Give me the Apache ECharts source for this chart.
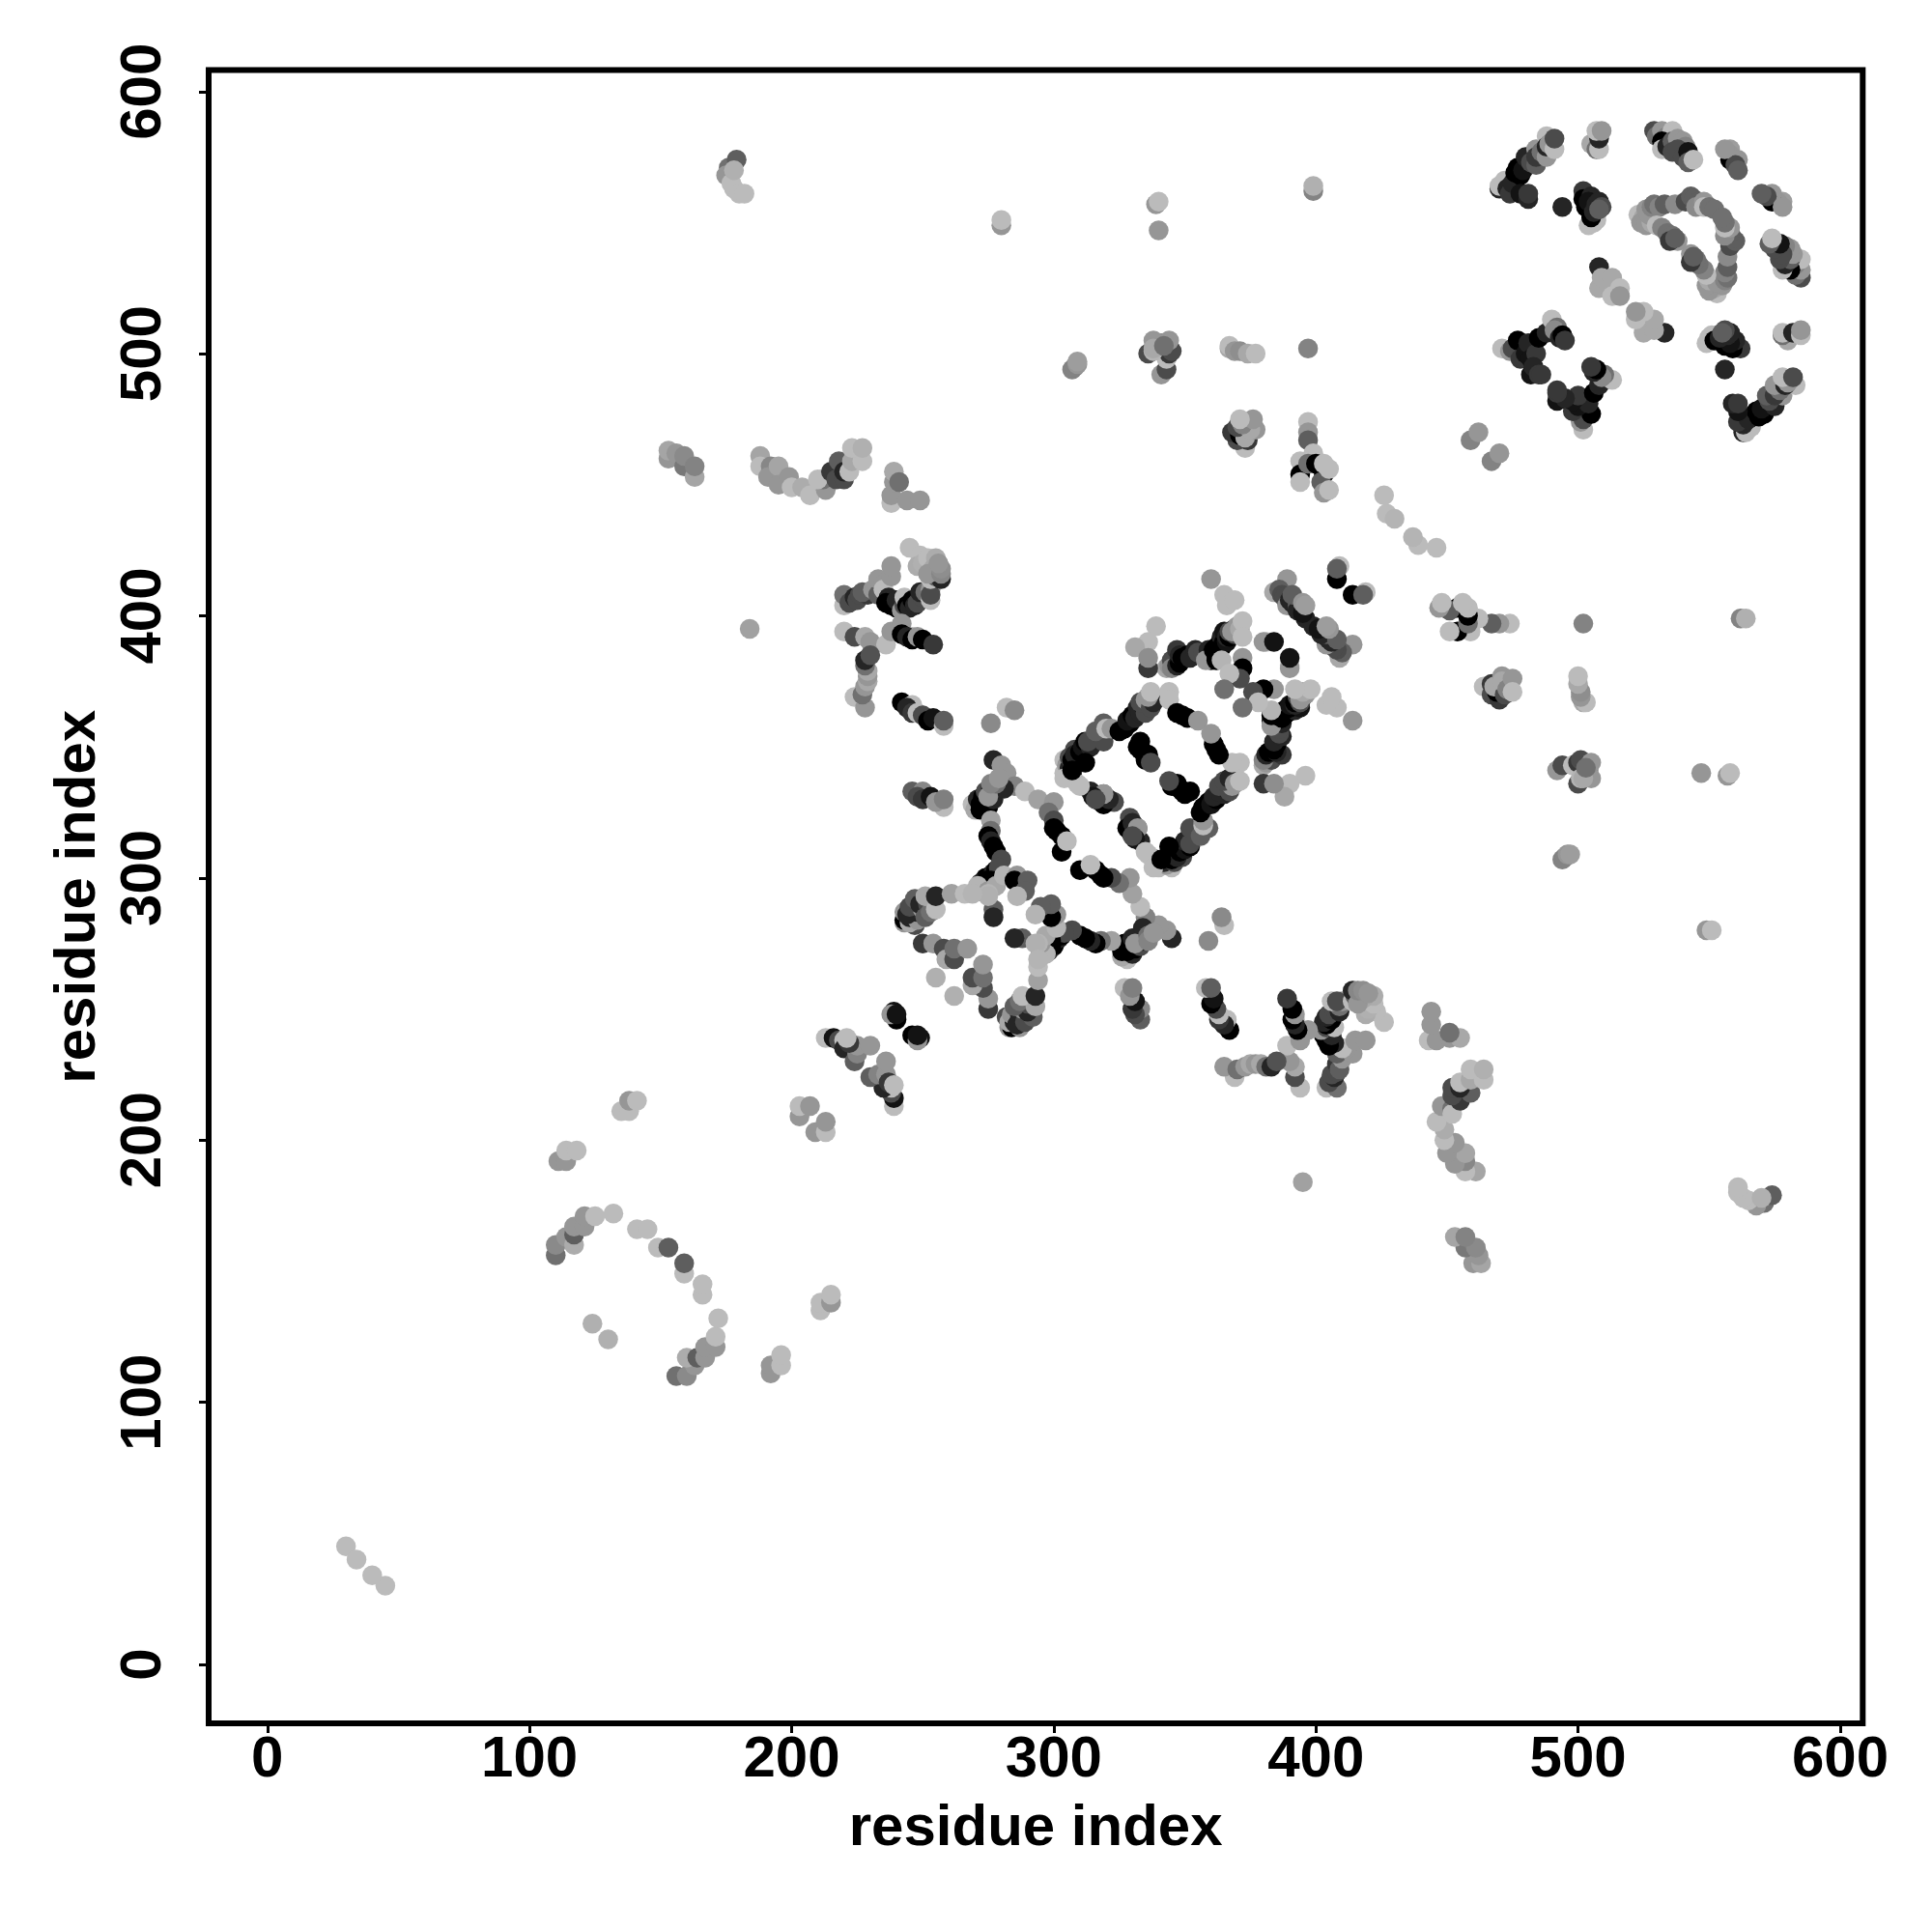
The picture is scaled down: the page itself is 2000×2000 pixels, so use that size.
<!DOCTYPE html>
<html><head><meta charset="utf-8">
<style>html,body{margin:0;padding:0;background:#fff}#chart{width:2000px;height:2000px}</style>
<script src="https://cdn.jsdelivr.net/npm/echarts@6/dist/echarts.min.js"></script>
</head><body><div id="chart"></div>
<script>
// Symmetric residue contact map: each entry is [residue i, residue j, contact score 0-5]
const tickValues = [0,100,200,300,400,500,600];
const axisTitle = 'residue index';
const contactsNTerm = [[30,45,0],[34,40,0],[110,156,2],[110,160,1.3],[114,163,1],[117,160,0.4],[117,164,2.5],[117,167,1],[121,167,1],[121,171,1],[125,171,0],[132,172,0],[141,166,0],[145,166,0],[149,159,0],[153,159,2.5],[124,130,0.3],[111,192,1],[114,192,1],[114,196,0],[118,196,0],[135,211,0],[138,211,0],[138,215,1],[141,215,0],[203,209,1],[203,213,0],[207,213,1],[153,460,1],[153,463,0.6],[156,462,1],[159,457,1.8],[159,461,1.3],[163,453,0.6],[163,457,1.5]];
const contacts180s = [[188,461,0.6],[188,457,0],[192,457,1.4],[191,453,1],[195,457,0.6],[195,450,1],[199,453,1],[200,449,0],[204,449,0.4],[207,446,0],[213,448,1],[212,452,2],[210,452,0],[215,455,3.5],[218,459,2.5],[217,452,3],[220,452,3],[220,455,4],[222,455,0],[223,459,0.5],[227,459,0],[223,464,0],[227,464,0.3],[238,443,0],[238,446,1],[239,451,1],[239,455,0.5],[241,451,2],[244,444,1],[249,444,1],[184,395,0.7],[176,571,2],[179,574,2.5],[175,568,1],[177,565,0],[178,563,0],[180,561,0],[182,561,0],[178,570,0.3],[280,549,1],[280,551,0]];
const contacts210s = [[213,239,0],[216,239,4.5],[218,238,3],[220,238,0],[220,235,4],[224,230,2.5],[225,233,1.5],[225,236,1],[230,236,1],[222,237,3.5],[221,239,0],[239,249,4.5],[240,246,5],[238,248,1],[240,248,4.5],[220,404,0],[220,408,2],[222,405,3],[224,407,4],[225,406,3],[226,408,3],[229,408,3.5],[227,409,2.5],[231,410,1],[233,408,2.5],[233,414,1],[235,412,1],[235,410,0],[238,415,1],[238,419,1],[237,407,4],[236,405,5],[238,404,5],[240,403,5],[241,405,5],[240,406,4],[242,402,1],[243,404,3],[243,407,0],[244,404,5],[245,403,4],[246,406,5],[247,404,4],[248,405,3],[250,407,3],[249,409,4],[251,409,2],[253,410,1],[253,406,0],[253,408,3],[245,426,0],[249,423,0],[248,419,0.4],[250,420,0.3],[252,422,0],[255,422,0.4],[254,418,0.5],[253,414,0],[255,415,2.5],[257,414,4],[252,416,1],[257,416,1.4],[257,418,1.2],[256,420,1]];
const contacts220s = [[220,394,0],[224,392,3],[228,392,0.5],[230,390,1],[236,389,0],[238,394,1],[242,397,1],[246,392,0],[242,393,5],[244,392,4],[246,391,5],[248,392,1],[250,391,5],[254,389,3.5],[224,369,0],[228,365,1],[227,370,2],[228,373,1],[229,375,0.5],[229,377,1],[229,379,0.5],[228,381,2],[228,383,4],[230,385,2.8],[242,367,5],[246,366,0],[244,365,4],[246,363,3.5],[248,363,0],[250,362,3],[252,360,5],[254,361,4.5],[258,358,0],[258,360,2.5],[246,333,2.5],[250,333,1.4],[248,331,3],[250,330,3.5],[253,331,4.5],[258,327,0],[255,329,1],[258,330,1.6]];
const contacts250s = [[250,275,3.5],[254,275,1],[258,273,3],[259,269,0.5],[262,269,3],[262,273,2],[267,273,1],[255,262,0.3],[243,283,1],[243,284,5],[247,282,3],[245,283,0.5],[243,287,1],[245,285,4],[248,284,1],[246,288,4.5],[248,287,4],[244,286,4],[245,289,3],[250,288,1],[247,292,2.5],[249,290,4],[252,290,3],[251,285,2.5],[253,287,2],[251,293,0.5],[255,288,0],[255,293,4],[261,294,0.7],[266,294,0],[270,295,0.2],[276,359,1.3],[282,365,0],[285,364,1.3]];
const contactsStrandA = [[277,345,4],[280,343,1],[282,340,1],[285,335,1.5],[269,328,0],[270,326,0.5],[271,330,4],[272,326,5],[272,328,5],[273,331,5],[274,329,5],[274,333,3],[275,327,5],[277,330,4],[276,334,4],[281,334,4],[275,331,1],[278,336,2],[276,336,1.5],[279,338,1],[289,333,0],[294,330,0.7],[300,329,1],[298,325,2],[300,322,3],[300,319,5],[301,318,5],[303,316,5],[303,310,5],[305,314,0],[276,322,0.7],[276,318,2],[275,316,5],[276,314,4],[277,312,5],[278,310,5],[280,307,3],[272,295,5],[273,296,5],[273,298,5],[274,300,5],[275,300,5],[276,301,5],[277,302,4],[278,303,5],[279,304,3],[272,298,4],[273,297,3],[276,299,5],[274,299,5],[271,297,0.2],[275,295,1],[278,297,0.5],[281,301,0.2],[286,301,1],[285,299,5],[290,299,2.5],[289,295,2.5],[286,293,0.2],[277,288,2.5],[277,285,4],[275,294,0.2],[275,293,0.3],[269,294,0.2]];
const contactsRing = [[304,345,0],[304,340,0],[305,343,1],[306,342,4],[306,346,3],[309,345,4],[307,345,5],[308,349,3],[308,347,4],[307,339,5],[310,348,5],[311,350,4.5],[312,352,5],[314,350,4],[313,352,3],[319,352,3],[316,356,2.5],[319,359,2.5],[320,357,0],[322,357,1],[309,336,0],[314,333,4],[319,332,2],[318,329,5],[323,329,3],[319,328,5],[321,330,4],[319,332,1],[315,331,4.5],[316,330,3],[310,335,0],[304,338,0],[307,341,5],[312,344,5],[325,356,5],[327,357,5],[329,359,5],[328,360,4.5],[330,362,5],[331,361,4],[332,365,4],[333,363,4],[334,366,4.5],[335,363,3],[333,367,3],[335,368,1],[337,365,3],[338,367,4],[336,369,1],[337,371,0],[344,371,0],[344,368,0],[347,363,5],[349,362,5],[351,361,5],[355,360,1],[333,352,5],[332,350,5],[334,348,5],[333,349,5],[336,347,5],[335,345,5],[337,344,3]];
const contactsRingB = [[343,380,0.5],[344,381,1],[345,383,3],[345,380,1.5],[347,381,4],[348,382,5],[347,387,3.5],[348,385,4],[349,384,5],[351,385,5],[352,384,4],[354,387,4],[355,386,3],[357,386,3],[359,387,4],[360,385,4.5],[360,383,4],[358,383,1],[361,387,5],[362,388,5],[362,385,5],[362,383,5],[363,389,5],[363,386,5],[364,392,4],[364,388,5],[365,390,5],[366,390,4.5],[365,394,4.5],[366,392,4],[367,392,5],[367,394,3],[369,393,3],[369,395,4],[368,394,1],[370,396,1],[371,395,0.5],[372,398,0],[372,392,0],[364,383,0.2],[372,384,1],[372,380,5],[371,376,3],[367,378,0],[360,414,1],[365,408,0],[366,404,0],[369,406,0],[339,396,0],[336,390,0],[331,388,0.5],[336,380,3.5],[336,384,1.2],[365,372,2],[381,390,0],[380,390,1],[384,390,4.5],[384,409,0.5],[389,414,1],[386,410,2.5],[387,408,3],[388,407,3],[389,404,1],[392,404,3],[390,406,4],[391,405,4],[393,404,2.5],[394,402,3],[393,402,4],[396,399,4],[395,401,4.5],[391,408,2.5],[395,405,1],[396,404,0.8],[409,419,0],[408,414,5],[408,418,2.5]];
const contactsMid = [[341,492,1],[343,494,3],[343,498,0],[344,500,3.5],[336,500,3],[338,501,0.2],[341,504,1.5],[345,501,3],[344,505,1],[338,505,1],[338,502,0.5],[342,503,2],[339,557,1],[340,558,0],[340,547,1],[399,562,1.5],[399,564,0.3],[307,494,1.5],[308,495,1.5],[309,496,1],[309,497,0.8],[367,502,0.5],[367,503,0],[369,501,1],[371,501,1.2],[374,500,0.5],[377,500,0],[373,464,0],[370,467,3],[368,470,3.5],[374,467,3.5],[371,469,5],[372,470,5],[373,468,0.5],[370,472,3],[377,471,1],[375,471,0.5],[372,473,1.5],[376,475,1],[371,475,0],[397,474,0],[397,470,1],[397,467,2.5],[399,462,0],[394,459,0],[394,454,5],[394,451,0],[397,458,2],[400,458,5],[403,454,5],[402,451,2.5],[403,458,0],[405,456,0],[403,447,1],[405,448,0],[426,446,0],[427,439,0],[430,437,0.2],[459,467,1.5],[462,470,1],[397,502,1.5]];
const contactsCTermA = [[470,563,4],[470,564,0],[472,566,0],[473,563,4],[474,561,3.5],[475,565,4],[477,571,5],[476,569,5],[478,568,5],[479,570,4.5],[478,561,4.5],[481,559,4],[481,561,3.5],[480,575,4],[482,573,3],[484,572,2.5],[484,578,1],[484,575,3.5],[486,577,2],[488,575,1],[488,583,0],[488,579,4],[489,580,1],[491,578,0],[491,582,3],[505,580,0.5],[507,578,2],[508,578,0],[508,582,4],[507,585,0],[509,585,1],[494,556,4],[504,549,0],[506,550,0],[507,551,0],[502,562,3.5],[502,559,5],[505,560,4],[505,556,5],[505,552,5],[503,556,5],[504,558,4.5],[506,554,4],[507,557,4],[508,558,4],[509,556,3],[508,555,2.5],[508,533,4],[508,525,0.5],[509,529,0.5],[513,529,0.5],[516,525,0],[513,522,0],[516,522,1]];
const contactsCTermB = [[529,585,3],[530,583,2],[532,585,1],[534,583,1.5],[536,585,0],[532,581,5],[532,578,0],[534,579,4],[536,581,2.5],[538,582,1],[540,581,1],[541,579,1.5],[536,577,3],[538,578,3],[540,575,3],[542,577,4.5],[542,573,2.5],[544,574,0],[558,578,0.8],[558,576,1],[558,574,5],[561,574,1],[560,572,3],[561,570,2.5],[556,578,1],[523,553,0],[525,552,0.5],[524,550,1],[526,549,1],[528,550,0.5],[526,555,1],[527,553,1],[528,556,1.5],[529,557,2],[531,556,1.5],[533,557,2.5],[537,557,1.3],[530,549,0],[532,548,1.5],[534,546,2],[536,545,2],[538,543,1],[535,543,3.5],[537,544,2.5],[541,558,3],[543,560,2.5],[544,559,2.5],[546,558,2.5],[545,556,1.3],[548,558,1],[548,556,0],[550,556,2],[552,555,2]];
const contactsCTermC = [[471,502,0],[474,501,1],[475,502,3],[477,505,5],[478,498,3.5],[480,500,4.5],[481,504,4],[482,498,4.5],[484,500,3.5],[485,506,5],[482,492,4.5],[483,495,4],[485,492,3.5],[486,492,3.5],[488,508,4],[490,513,0],[492,510,2],[491,509,1.3],[493,506,4],[494,507,5],[495,505,3.5]];

const contactGroups = [contactsNTerm, contacts180s, contacts210s, contacts220s, contacts250s, contactsStrandA, contactsRing, contactsRingB, contactsMid, contactsCTermA, contactsCTermB, contactsCTermC];
const points = [];
contactGroups.forEach(group => group.forEach(([i, j, s]) => { points.push([i, j, s]); points.push([j, i, s]); }));

const font = {fontFamily: '"Liberation Sans", Arial, sans-serif', fontWeight: 'bold', fontSize: 60, color: '#000'};
const chart = echarts.init(document.getElementById('chart'), null, {renderer: 'canvas'});
chart.setOption({
  animation: false,
  backgroundColor: '#fff',
  grid: {show: true, left: 216, top: 72.5, width: 1712.3, height: 1711.5, borderColor: '#000', borderWidth: 6, backgroundColor: '#fff'},
  visualMap: {show: false, type: 'continuous', dimension: 2, min: 0, max: 5, seriesIndex: 0, inRange: {color: ['#bbbbbb', '#000000']}},
  xAxis: {
    type: 'value', min: -22.4, max: 608.6, splitLine: {show: false},
    axisLine: {show: false, onZero: false},
    axisTick: {show: true, length: 10, lineStyle: {color: '#000', width: 3}, customValues: tickValues},
    axisLabel: Object.assign({show: true, margin: 8, customValues: tickValues, showMinLabel: true, showMaxLabel: true}, font),
    name: axisTitle, nameLocation: 'middle', nameGap: 79, nameTextStyle: font
  },
  yAxis: {
    type: 'value', min: -22.5, max: 608.2, splitLine: {show: false},
    axisLine: {show: false, onZero: false},
    axisTick: {show: true, length: 10, lineStyle: {color: '#000', width: 3}, customValues: tickValues},
    axisLabel: Object.assign({show: true, margin: 67, rotate: 90, customValues: tickValues, showMinLabel: true, showMaxLabel: true, align: 'center', verticalAlign: 'middle'}, font),
    name: axisTitle, nameLocation: 'middle', nameGap: 45, nameRotate: 90, nameTextStyle: font
  },
  series: [{type: 'scatter', data: points, symbol: 'circle', symbolSize: 20.5, progressive: 0, large: false, itemStyle: {opacity: 1}, emphasis: {disabled: true}, silent: true}]
});
</script></body></html>
